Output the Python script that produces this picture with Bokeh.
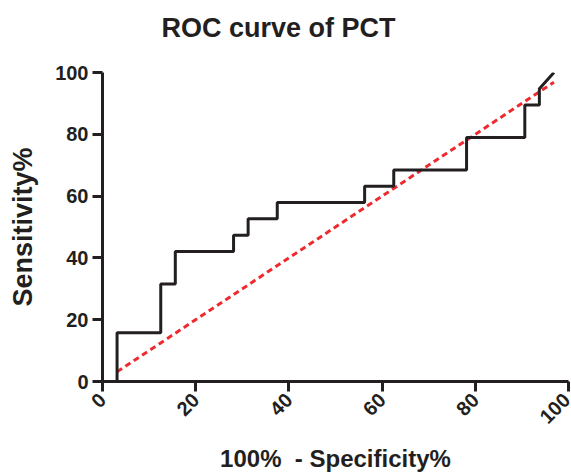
import math
from bokeh.plotting import figure
from bokeh.models import FixedTicker, Range1d, Title
from bokeh.embed import file_html
from bokeh.resources import INLINE

# ROC curve of PCT (percent values)
fpr = [3.125, 3.125, 12.5, 12.5, 15.625, 15.625, 28.125, 28.125, 31.25, 31.25,
       37.5, 37.5, 56.25, 56.25, 62.5, 62.5, 78.125, 78.125, 90.625, 90.625,
       93.75, 93.75, 96.875]
tpr = [0.0, 15.79, 15.79, 31.58, 31.58, 42.11, 42.11, 47.37, 47.37, 52.63,
       52.63, 57.89, 57.89, 63.16, 63.16, 68.42, 68.42, 78.95, 78.95, 89.47,
       89.47, 94.74, 100.0]
ref_x = [3.125, 96.875]
ref_y = [3.125, 96.875]
ticks = [0, 20, 40, 60, 80, 100]

FONT = "Liberation Sans"
INK = "#231f20"

p = figure(width=571, height=474, output_backend="svg", toolbar_location=None,
           x_range=Range1d(0, 100), y_range=Range1d(0, 100),
           min_border_left=102, min_border_right=3, min_border_top=72,
           min_border_bottom=91, outline_line_color=None,
           title="ROC curve of PCT")

p.title.text_font = FONT
p.title.text_font_size = "27px"
p.title.text_font_style = "bold"
p.title.text_color = INK
p.title.align = "left"
p.title.offset = 59
p.title.standoff = 16

# thin spacer between title and plot area
p.add_layout(Title(text=" ", text_font_size="1px", standoff=19,
                   text_color="white"), "above")

p.grid.visible = False
p.background_fill_color = "white"
p.border_fill_color = "white"

for ax in (p.xaxis[0], p.yaxis[0]):
    ax.ticker = FixedTicker(ticks=ticks)
    ax.axis_line_width = 3
    ax.axis_line_color = INK
    ax.major_tick_line_width = 3
    ax.major_tick_line_color = INK
    ax.major_tick_out = 10
    ax.major_tick_in = 0
    ax.minor_tick_line_color = None
    ax.major_label_text_font = FONT
    ax.major_label_text_font_style = "bold"
    ax.major_label_text_font_size = "20px"
    ax.major_label_text_color = INK
    ax.axis_label_text_font = FONT
    ax.axis_label_text_font_style = "bold"
    ax.axis_label_text_color = INK

p.xaxis.major_label_orientation = math.pi / 4
p.xaxis.major_label_standoff = 5
p.yaxis.major_label_standoff = 4
p.xaxis.axis_label = "100%\u00a0 - Specificity%"
p.xaxis.axis_label_text_font_size = "24px"
p.xaxis.axis_label_standoff = 12
p.yaxis.axis_label = "Sensitivity%"
p.yaxis.axis_label_text_font_size = "27px"
p.yaxis.axis_label_standoff = 14

p.line(ref_x, ref_y, line_color="#ee2a2f", line_width=3, line_dash="6 4")
p.line(fpr, tpr, line_color=INK, line_width=3)

open("out.html", "w").write(file_html(p, INLINE))
